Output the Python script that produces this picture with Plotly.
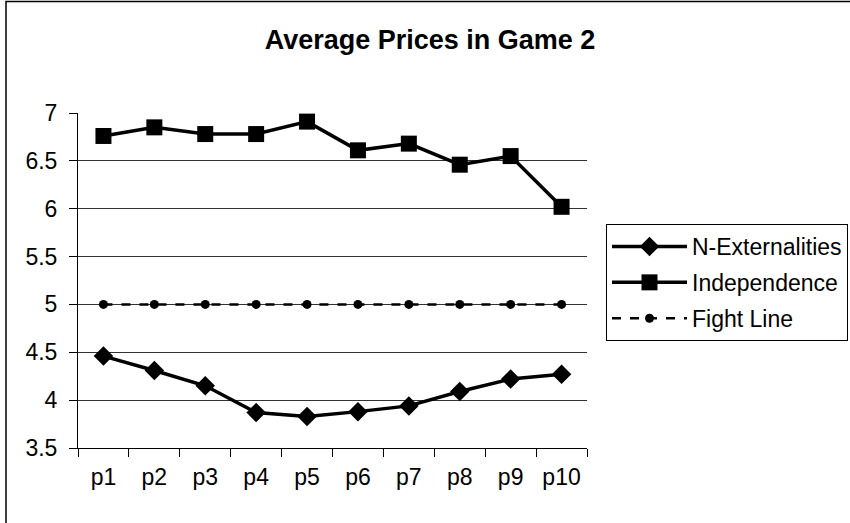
import plotly.graph_objects as go

categories = ["p1", "p2", "p3", "p4", "p5", "p6", "p7", "p8", "p9", "p10"]
n_externalities = [4.46, 4.31, 4.15, 3.87, 3.83, 3.88, 3.94, 4.09, 4.22, 4.27]
independence = [6.76, 6.85, 6.78, 6.78, 6.91, 6.61, 6.68, 6.46, 6.55, 6.02]
fight_line = [5, 5, 5, 5, 5, 5, 5, 5, 5, 5]
y_ticks = [3.5, 4, 4.5, 5, 5.5, 6, 6.5, 7]
y_tick_labels = ["3.5", "4", "4.5", "5", "5.5", "6", "6.5", "7"]

FONT = "Liberation Sans, Arial, sans-serif"

fig = go.Figure()
fig.add_trace(go.Scatter(
    x=categories, y=n_externalities, name="N-Externalities", mode="lines+markers",
    line=dict(color="black", width=3.5),
    marker=dict(symbol="diamond", size=15, color="black"),
    legendgroup="a",
))
fig.add_trace(go.Scatter(
    x=categories, y=independence, name="Independence", mode="lines+markers",
    line=dict(color="black", width=3.5),
    marker=dict(symbol="square", size=16, color="black"),
    legendgroup="b",
))
fig.add_trace(go.Scatter(
    x=categories, y=fight_line, name="Fight Line", mode="lines+markers",
    line=dict(color="black", width=2.5, dash="dash"),
    marker=dict(symbol="circle", size=9, color="black"),
    legendgroup="c",
))

W, H = 850, 523
L, R, T, B = 78, 263, 113, 75
pw, ph = W - L - R, H - T - B

def px_x(p):
    return (p - L) / pw

def px_y(p):
    return (H - B - p) / ph

fig.update_layout(
    width=W, height=H,
    margin=dict(l=L, r=R, t=T, b=B, pad=0, autoexpand=False),
    paper_bgcolor="white", plot_bgcolor="white",
    font=dict(family=FONT, size=23, color="black"),
    title=dict(text="<b>Average Prices in Game 2</b>", xref="container", x=430 / W, xanchor="center",
               yref="container", y=1 - 40 / H, yanchor="middle",
               font=dict(size=27, family=FONT, color="black")),
    showlegend=True,
    legend=dict(
        x=px_x(606), y=px_y(224), xanchor="left", yanchor="top",
        bordercolor="black", borderwidth=1, bgcolor="white",
        font=dict(size=23, family=FONT, color="black"),
        traceorder="grouped", tracegroupgap=3, itemwidth=75,
    ),
    shapes=[dict(type="rect", xref="paper", yref="paper",
                 x0=px_x(6), x1=px_x(870), y0=px_y(560), y1=px_y(1.5),
                 line=dict(color="black", width=1.5), fillcolor="rgba(0,0,0,0)", layer="below")],
)
fig.update_xaxes(
    type="category", range=[-0.5, 9.5], tickson="boundaries", automargin=False,
    showline=True, linecolor="black", linewidth=1,
    ticks="outside", ticklen=8, tickcolor="black", tickwidth=1,
    showgrid=False, zeroline=False,
    tickfont=dict(size=23, family=FONT, color="black"), ticklabelstandoff=8,
)
fig.update_yaxes(
    range=[3.5, 7], tickvals=y_ticks, ticktext=y_tick_labels, automargin=False,
    showline=True, linecolor="black", linewidth=1,
    ticks="outside", ticklen=8, tickcolor="black", tickwidth=1,
    showgrid=True, gridcolor="#333333", gridwidth=1, zeroline=False,
    tickfont=dict(size=23, family=FONT, color="black"), ticklabelstandoff=7,
)

fig.write_html("out.html", config={"displayModeBar": False},
               post_script="document.body.style.margin='0';document.body.style.overflow='hidden';")
